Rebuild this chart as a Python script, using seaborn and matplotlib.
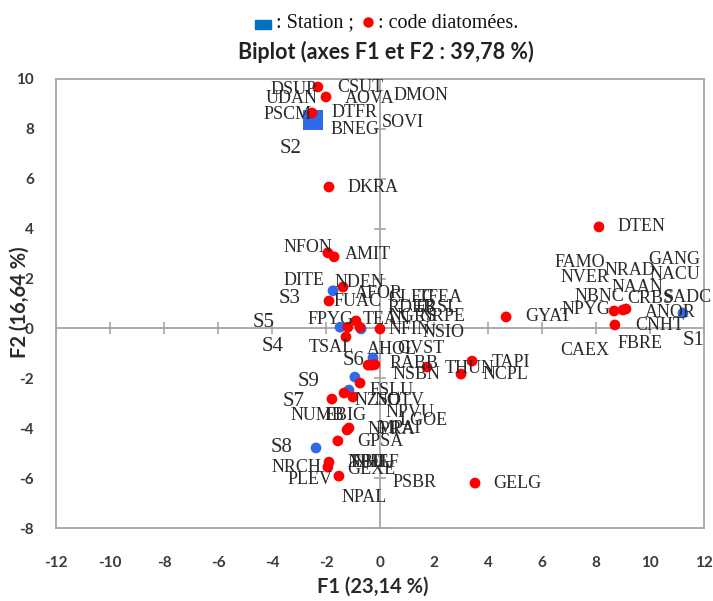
import matplotlib
matplotlib.use("Agg")
import matplotlib.pyplot as plt
import seaborn as sns
import pandas as pd
import numpy as np
from matplotlib.patches import Rectangle
from matplotlib.lines import Line2D

# ---------------- data ----------------
# Stations (blue)
station_names = ["S1", "S2", "S3", "S4", "S5", "S6", "S7", "S8", "S9"]
station_x = [11.22, -2.48, -1.74, -0.70, -1.48, -0.26, -1.15, -2.37, -0.93]
station_y = [0.62, 8.36, 1.51, -0.02, 0.05, -1.18, -2.47, -4.79, -1.95]
station_label_x = [11.22, -3.70, -3.74, -4.37, -4.70, -1.37, -3.59, -4.04, -3.04]
station_label_y = [-0.47, 7.23, 1.22, -0.71, 0.22, -1.27, -2.91, -4.79, -2.11]

# Diatom points (red)
diat_x = [-2.30, -2.00, -2.52, -1.89, -1.93, -1.70, -1.37, -1.89, -1.19, -0.89,
          -0.74, 0.00, -1.26, -0.44, -0.30, -0.19, 1.74, 3.00, 3.41, -0.74,
          -1.33, -1.78, -1.00, -1.22, -1.15, -1.56, -1.89, -1.93, -1.52, 3.52,
          4.67, 8.11, 8.67, 9.00, 9.11, 8.70]
diat_y = [9.68, 9.28, 8.64, 5.67, 3.03, 2.87, 1.66, 1.10, 0.05, 0.30,
          0.05, -0.02, -0.34, -1.47, -1.47, -1.45, -1.55, -1.83, -1.31, -2.19,
          -2.59, -2.83, -2.75, -4.07, -3.99, -4.51, -5.36, -5.56, -5.92, -6.20,
          0.46, 4.07, 0.70, 0.74, 0.78, 0.14]

# Diatom code labels
diat_codes = ["DSUP", "CSUT", "UDAN", "AOVA", "DMON", "PSCM", "DTFR", "BNEG", "SOVI",
              "DKRA", "NFON", "AMIT", "DITE", "NDEN", "AFOR", "FUAC", "CLEC", "TFEA",
              "RDEB", "FRSL", "NGRS", "NRPE", "FPYG", "TEAN", "NFIN", "NSIO", "TSAL",
              "AHOL", "GVST", "RABB", "NSBN", "THUN", "TAPI", "NCPL", "FSLU", "NZSO",
              "NOTV", "NPVU", "LGOE", "NUMB", "EBIG", "NPRA", "MPAI", "GPSA", "NPEL",
              "EBIL", "NHEF", "NRCH", "GEXE", "PLEV", "PSBR", "NPAL", "GELG", "DTEN",
              "FAMO", "GANG", "NVER", "NRAD", "NACU", "NAAN", "NBNC", "CRBS", "SADC",
              "NPYG", "ANOR", "GYAT", "CNHT", "FBRE", "CAEX"]
code_x = [-4.07, -1.59, -4.22, -1.30, 0.50, -4.33, -1.78, -1.85, 0.07,
          -1.19, -3.56, -1.30, -3.59, -1.67, -0.93, -1.74, 0.30, 1.41,
          0.26, 1.30, 0.30, 1.45, -2.67, -0.63, 0.30, 1.56, -2.63,
          -0.48, 0.63, 0.37, 0.48, 2.41, 4.15, 3.78, -0.37, -0.96,
          -0.19, 0.19, 0.74, -3.33, -2.04, -0.48, -0.10, -0.85, -1.19,
          -1.10, -1.00, -4.00, -1.22, -3.41, 0.48, -1.41, 4.19, 8.81,
          6.48, 9.93, 6.67, 8.33, 10.00, 8.59, 7.22, 9.15, 10.50,
          6.74, 9.81, 5.37, 9.44, 8.81, 6.67]
code_y = [9.56, 9.64, 9.20, 9.20, 9.32, 8.56, 8.64, 7.96, 8.24,
          5.67, 3.23, 2.98, 1.94, 1.86, 1.42, 1.10, 1.26, 1.26,
          0.82, 0.82, 0.46, 0.46, 0.34, 0.34, -0.06, -0.18, -0.75,
          -0.83, -0.79, -1.39, -1.83, -1.59, -1.35, -1.83, -2.47, -2.87,
          -2.87, -3.35, -3.71, -3.51, -3.51, -4.07, -4.00, -4.55, -5.36,
          -5.36, -5.36, -5.56, -5.64, -6.04, -6.16, -6.76, -6.21, 4.07,
          2.66, 2.78, 2.06, 2.34, 2.18, 1.66, 1.30, 1.22, 1.26,
          0.74, 0.62, 0.46, 0.10, -0.59, -0.87]

x_ticks = list(range(-12, 13, 2))
y_ticks = list(range(-8, 11, 2))
title = "Biplot (axes F1 et F2 : 39,78 %)"
x_title = "F1 (23,14 %)"
y_title = "F2 (16,64 %)"

# ---------------- plot ----------------
sns.set_theme(style="white")
plt.rcParams["font.family"] = ["Lato", "DejaVu Sans"]
plt.rcParams["axes.unicode_minus"] = False

W, H = 713, 601
fig = plt.figure(figsize=(W / 100, H / 100), dpi=100)
ax = fig.add_axes([56 / W, 1 - 528 / H, (704 - 56) / W, (528 - 79) / H])

ax.set_xlim(-12, 12)
ax.set_ylim(-8, 10)

grey = "#a6a6a6"
ax.axhline(0, color=grey, lw=1.3, zorder=1)
ax.axvline(0, color=grey, lw=1.3, zorder=1)
ax.plot(x_ticks, [0] * len(x_ticks), linestyle="none", marker="|",
        markersize=8, markeredgewidth=1.2, color=grey, zorder=1)
ax.plot([0] * len(y_ticks), y_ticks, linestyle="none", marker="_",
        markersize=8, markeredgewidth=1.2, color=grey, zorder=1)

st = pd.DataFrame({"x": station_x, "y": station_y, "name": station_names})
circ = st[st["name"] != "S2"]
sq = st[st["name"] == "S2"]
sns.scatterplot(data=circ, x="x", y="y", ax=ax, color="#2f6be8", s=60,
                edgecolor="none", zorder=3, legend=False)
sns.scatterplot(data=sq, x="x", y="y", ax=ax, color="#2f6be8", marker="s", s=200,
                edgecolor="none", zorder=3, legend=False)

dt = pd.DataFrame({"x": diat_x, "y": diat_y})
sns.scatterplot(data=dt, x="x", y="y", ax=ax, color="#ff0000", s=60,
                edgecolor="none", zorder=4, legend=False)

for name, lx, ly in zip(diat_codes, code_x, code_y):
    ax.text(lx, ly, name, ha="left", va="center", fontsize=13,
            family="Liberation Serif", color="#2a2a2a", zorder=5)
for name, lx, ly in zip(station_names, station_label_x, station_label_y):
    ax.text(lx, ly, name, ha="left", va="center", fontsize=15,
            family="Liberation Serif", color="#2a2a2a", zorder=5)

ax.set_xticks(x_ticks)
ax.set_yticks(y_ticks)
ax.tick_params(axis="both", length=0, labelsize=11, labelcolor="#3a3a3a")
ax.tick_params(axis="x", pad=20)
ax.tick_params(axis="y", pad=16)
for lab in ax.get_xticklabels() + ax.get_yticklabels():
    lab.set_fontweight("bold")
ax.set_xlabel("")
ax.set_ylabel("")
for sp in ax.spines.values():
    sp.set_color(grey)
    sp.set_linewidth(1.3)
    sp.set_visible(True)

fig.text(373 / W, 1 - 587 / H, x_title, ha="center", va="center",
         fontsize=14.5, fontweight="bold", color="#2a2a2a")
fig.text(20 / W, 1 - 302 / H, y_title, ha="center", va="center", rotation=90,
         fontsize=14.5, fontweight="bold", color="#2a2a2a")
fig.text(386 / W, 1 - 52 / H, title, ha="center", va="center",
         fontsize=15.5, fontweight="bold", color="#222222")

# header legend line
fig.add_artist(Rectangle((255 / W, 1 - 29 / H), 16 / W, 9 / H,
                         transform=fig.transFigure, color="#0070c0"))
fig.text(276 / W, 1 - 23 / H, ": Station ;", ha="left", va="center",
         fontsize=14.5, family="Liberation Serif", color="#111111")
fig.add_artist(Line2D([368 / W], [1 - 22 / H], marker="o", markersize=7.5,
                      color="#ff0000", markeredgewidth=0,
                      transform=fig.transFigure))
fig.text(378 / W, 1 - 23 / H, ": code diatomées.", ha="left", va="center",
         fontsize=14.5, family="Liberation Serif", color="#111111")

fig.savefig("out.png", dpi=100, facecolor="white")
